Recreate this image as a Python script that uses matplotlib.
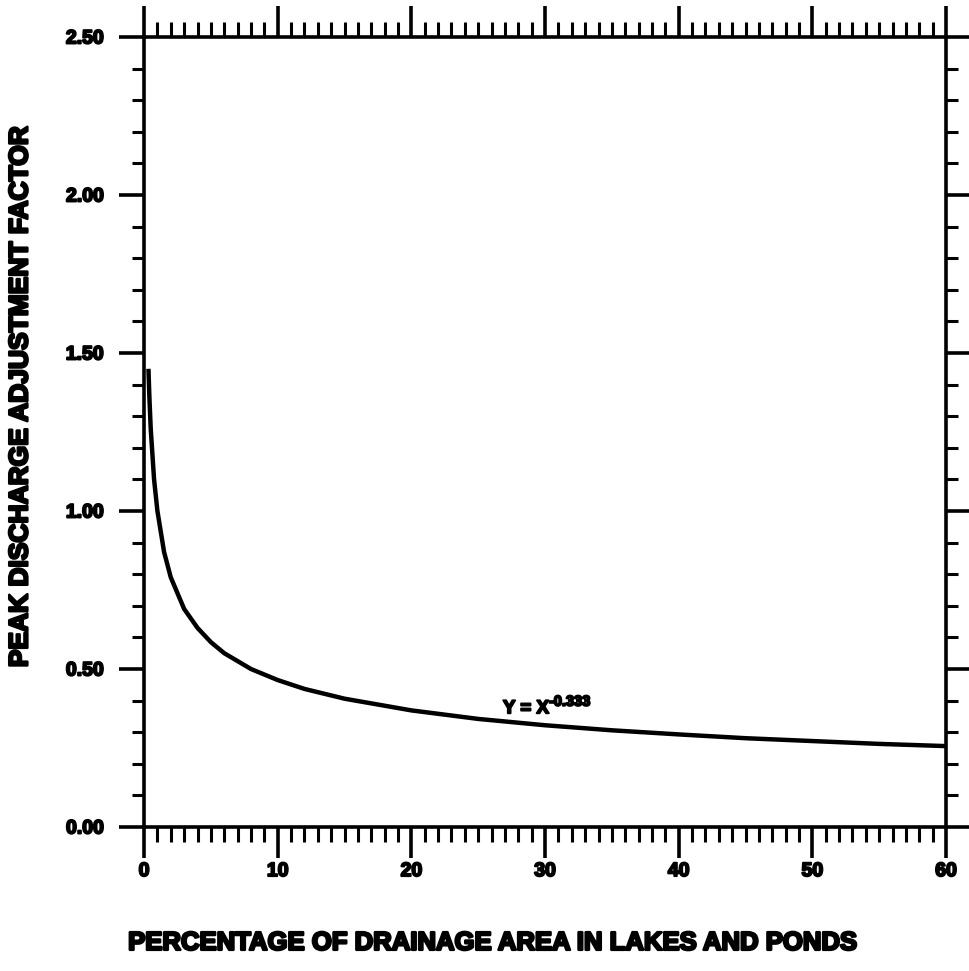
import matplotlib.pyplot as plt
import matplotlib.patheffects as pe
from matplotlib.ticker import MultipleLocator

# values
pct_lakes = [0.33, 0.4, 0.5, 0.75, 1, 1.5, 2, 3, 4, 5, 6, 8, 10, 12, 15,
             20, 25, 30, 35, 40, 45, 50, 55, 60]
adj_factor = [1.45, 1.36, 1.26, 1.10, 1.00, 0.87, 0.79, 0.69, 0.63, 0.585,
              0.55, 0.50, 0.465, 0.437, 0.406, 0.369, 0.342, 0.322, 0.306,
              0.293, 0.281, 0.272, 0.263, 0.256]

x_ticks = [0, 10, 20, 30, 40, 50, 60]
y_ticks = [0.0, 0.5, 1.0, 1.5, 2.0, 2.5]
y_tick_labels = ['0.00', '0.50', '1.00', '1.50', '2.00', '2.50']

plt.rcParams['font.family'] = ['Liberation Sans', 'DejaVu Sans']
heavy = [pe.withStroke(linewidth=1.4, foreground='black')]
heavier = [pe.withStroke(linewidth=1.8, foreground='black')]

fig = plt.figure(figsize=(9.7, 9.71), dpi=100)
ax = fig.add_axes([0.1485, 0.1483, 0.8268, 0.8136])

ax.plot(pct_lakes, adj_factor, color='black', linewidth=3.2,
        solid_capstyle='butt')

ax.set_xlim(0, 60)
ax.set_ylim(0, 2.5)
ax.set_xticks(x_ticks)
ax.set_yticks(y_ticks)
ax.set_yticklabels(y_tick_labels)
ax.xaxis.set_minor_locator(MultipleLocator(1))
ax.yaxis.set_minor_locator(MultipleLocator(0.1))

for s in ax.spines.values():
    s.set_linewidth(2.6)

ax.tick_params(which='both', direction='out', top=True, right=True,
               labeltop=False, labelright=False, color='black')
ax.tick_params(axis='x', which='major', length=22, width=2.6, pad=4,
               labelsize=14)
ax.tick_params(axis='x', which='minor', length=10.5, width=2.2)
ax.tick_params(axis='y', which='major', length=18, width=2.6, pad=11,
               labelsize=14)
ax.tick_params(axis='y', which='minor', length=8.5, width=2.2)

for lab in ax.get_xticklabels() + ax.get_yticklabels():
    lab.set_fontweight('bold')
    lab.set_path_effects(heavy)

eq = ax.text(26.85, 0.36, 'Y = X', fontsize=13.5, fontweight='bold',
             ha='left', va='baseline', path_effects=heavy)
ax.annotate('-0.333', xy=(1.0, 0.5), xycoords=eq, fontsize=10.5,
            fontweight='bold', ha='left', va='bottom', path_effects=heavy)

fig.text(0.021, 0.591, 'PEAK DISCHARGE ADJUSTMENT FACTOR', rotation=90,
         ha='center', va='center', fontsize=19, fontweight='bold',
         path_effects=heavier)
fig.text(0.509, 0.029, 'PERCENTAGE OF DRAINAGE AREA IN LAKES AND PONDS',
         ha='center', va='center', fontsize=18.5, fontweight='bold',
         path_effects=heavier)

fig.savefig('out.png', dpi=100)
